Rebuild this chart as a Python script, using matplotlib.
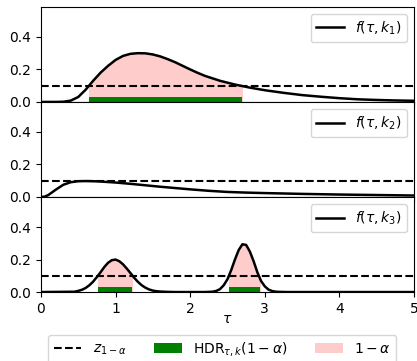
import matplotlib
matplotlib.use("Agg")
import matplotlib.pyplot as plt
from matplotlib.lines import Line2D
from matplotlib.patches import Patch, Rectangle

# threshold z_{1-alpha}
z_level = 0.1

# f(tau, k1): single skewed hump
tau_k1 = [0.0, 0.2, 0.3, 0.4, 0.5, 0.6, 0.7, 0.8, 0.9, 1.0, 1.1, 1.2, 1.3,
          1.4, 1.5, 1.6, 1.7, 1.8, 1.9, 2.0, 2.1, 2.2, 2.4, 2.6, 2.8, 3.0,
          3.25, 3.5, 3.75, 4.0, 4.25, 4.5, 4.75, 5.0]
f_k1 = [0.0, 0.0, 0.001, 0.008, 0.03, 0.075, 0.13, 0.18, 0.222, 0.258,
        0.283, 0.296, 0.300, 0.299, 0.292, 0.280, 0.263, 0.244, 0.222, 0.200,
        0.179, 0.160, 0.130, 0.107, 0.088, 0.072, 0.056, 0.042, 0.032, 0.023,
        0.016, 0.012, 0.009, 0.007]

# f(tau, k2): flat, below the threshold
tau_k2 = [0.0, 0.05, 0.1, 0.2, 0.3, 0.4, 0.5, 0.6, 0.7, 0.8, 1.0, 1.2, 1.4,
          1.6, 1.8, 2.0, 2.25, 2.5, 2.75, 3.0, 3.5, 4.0, 4.5, 5.0]
f_k2 = [0.0, 0.002, 0.012, 0.045, 0.075, 0.091, 0.097, 0.098, 0.097, 0.095,
        0.089, 0.081, 0.072, 0.063, 0.055, 0.047, 0.038, 0.031, 0.027, 0.024,
        0.019, 0.015, 0.012, 0.009]

# f(tau, k3): two peaks
tau_k3 = [0.0, 0.45, 0.5, 0.55, 0.6, 0.65, 0.7, 0.75, 0.8, 0.85, 0.9, 0.95,
          1.0, 1.05, 1.1, 1.15, 1.2, 1.25, 1.3, 1.35, 1.4, 1.45, 1.5, 1.55,
          1.6, 1.7, 1.8, 2.2, 2.3, 2.35, 2.4, 2.45, 2.5, 2.55, 2.6, 2.65, 2.7,
          2.75, 2.8, 2.85, 2.9, 2.95, 3.0, 3.05, 3.1, 3.15, 3.2, 3.3, 5.0]
f_k3 = [0.0, 0.002, 0.007, 0.014, 0.025, 0.042, 0.064, 0.092, 0.122, 0.154,
        0.180, 0.196, 0.200, 0.190, 0.171, 0.145, 0.117, 0.088, 0.063, 0.042,
        0.027, 0.016, 0.009, 0.005, 0.003, 0.001, 0.0, 0.0, 0.002, 0.007,
        0.018, 0.042, 0.079, 0.135, 0.200, 0.258, 0.294, 0.290, 0.249, 0.190,
        0.122, 0.068, 0.035, 0.015, 0.006, 0.002, 0.001, 0.0, 0.0]

# highest density regions (tau intervals where f >= z)
hdr_k1 = [(0.647, 2.69)]
hdr_k2 = []
hdr_k3 = [(0.77, 1.225), (2.52, 2.93)]

curve_labels = [r"$f(\tau, k_1)$", r"$f(\tau, k_2)$", r"$f(\tau, k_3)$"]

panels = [(tau_k1, f_k1, hdr_k1), (tau_k2, f_k2, hdr_k2), (tau_k3, f_k3, hdr_k3)]

fig, axes = plt.subplots(3, 1, sharex=True, figsize=(4.17, 3.61), dpi=100)
fig.subplots_adjust(left=0.098, right=0.993, top=0.981, bottom=0.191, hspace=0)

for ax, (tau, f, hdr), label in zip(axes, panels, curve_labels):
    ax.plot(tau, f, color="black", linewidth=1.8, label=label, zorder=3)
    ax.axhline(z_level, color="black", linestyle="--", linewidth=1.5, zorder=2)
    for a, b in hdr:
        fill = ax.fill_between(tau, 0, f, color="red", alpha=0.2,
                               linewidth=0, zorder=1)
        clip = Rectangle((a, 0), b - a, 1.0, transform=ax.transData)
        fill.set_clip_path(clip)
        ax.broken_barh([(a, b - a)], (0, 0.028), facecolors="green", zorder=2)
    ax.set_ylim(0, 0.585)
    ax.set_yticks([0.0, 0.2, 0.4])
    ax.legend(loc="upper right")

axes[-1].set_xlim(0, 5)
axes[-1].set_xlabel(r"$\tau$", labelpad=-3)

handles = [
    Line2D([], [], color="black", linestyle="--", linewidth=1.5),
    Patch(facecolor="green"),
    Patch(facecolor="red", alpha=0.2),
]
fig.legend(handles,
           [r"$z_{1-\alpha}$", r"HDR$_{\tau,k}(1-\alpha)$", r"$1-\alpha$"],
           loc="upper center", bbox_to_anchor=(0.533, 0.092), ncol=3,
           columnspacing=2.0)

fig.savefig("out.png", dpi=100)
